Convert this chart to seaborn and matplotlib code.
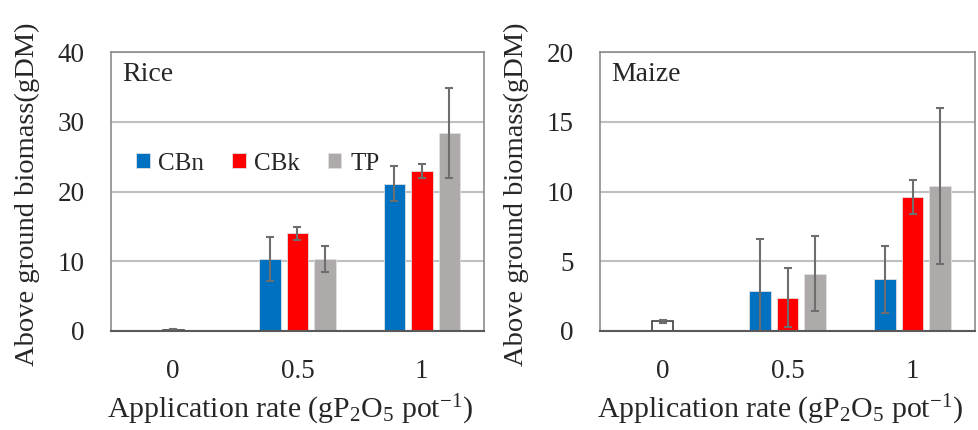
import matplotlib
matplotlib.use("Agg")
import matplotlib.pyplot as plt
import pandas as pd
import seaborn as sns

rates = ["0", "0.5", "1"]
treatments = ["CBn", "CBk", "TP"]
colors = ["#0070C0", "#FF0000", "#AEAAAA"]

# control (no P) at rate 0
rice_ctrl, rice_ctrl_err = 0.2, 0.05
maize_ctrl, maize_ctrl_err = 0.7, 0.1

# values at rate 0.5 and 1, per treatment
rice_cbn = [10.3, 21.1]
rice_cbk = [14.0, 23.0]
rice_tp = [10.3, 28.4]
rice_cbn_err = [3.2, 2.5]
rice_cbk_err = [0.9, 1.0]
rice_tp_err = [1.9, 6.4]

maize_cbn = [2.9, 3.7]
maize_cbk = [2.4, 9.6]
maize_tp = [4.1, 10.4]
maize_cbn_err = [3.7, 2.4]
maize_cbk_err = [2.1, 1.2]
maize_tp_err = [2.7, 5.6]


def make_df(vals, errs):
    rows = []
    for t, v, e in zip(treatments, vals, errs):
        for r, y, s in zip(rates[1:], v, e):
            rows.append({"rate": r, "treatment": t, "value": y, "err": s})
    return pd.DataFrame(rows)


sns.set_style("white")
plt.rcParams["font.family"] = ["Liberation Serif", "DejaVu Serif"]
plt.rcParams["mathtext.fontset"] = "custom"
plt.rcParams["mathtext.rm"] = "Liberation Serif"
plt.rcParams["mathtext.it"] = "Liberation Serif:italic"

fig = plt.figure(figsize=(9.79, 4.30), dpi=100)
ax1 = fig.add_axes([111 / 979, 1 - 331 / 430, 373 / 979, 279 / 430])
ax2 = fig.add_axes([600 / 979, 1 - 331 / 430, 375 / 979, 279 / 430])

panels = [
    (ax1, "Rice", make_df([rice_cbn, rice_cbk, rice_tp], [rice_cbn_err, rice_cbk_err, rice_tp_err]),
     rice_ctrl, rice_ctrl_err, 40, 10, True),
    (ax2, "Maize", make_df([maize_cbn, maize_cbk, maize_tp], [maize_cbn_err, maize_cbk_err, maize_tp_err]),
     maize_ctrl, maize_ctrl_err, 20, 5, False),
]

for ax, name, df, ctrl, ctrl_err, ymax, step, show_leg in panels:
    ax.set_axisbelow(True)
    ax.yaxis.grid(True, color="#BFBFBF", linewidth=1.5)
    sns.barplot(data=df, x="rate", y="value", hue="treatment", order=rates,
                hue_order=treatments, palette=colors, width=0.66, gap=0.22,
                saturation=1, errorbar=None, edgecolor="#E0E0E0", linewidth=0.6,
                legend=show_leg, ax=ax)
    # error bars from each bar's centre
    for cont, t in zip(ax.containers, treatments):
        sub = df[df["treatment"] == t]
        xs = [b.get_x() + b.get_width() / 2 for b in cont]
        ys = [b.get_height() for b in cont]
        ax.errorbar(xs, ys, yerr=sub["err"].values, fmt="none", ecolor="#6E6E6E",
                    elinewidth=1.5, capsize=3, capthick=1.5)
    # control bar at rate 0
    sns.barplot(x=["0"], y=[ctrl], order=rates, width=0.17, color="white",
                saturation=1, edgecolor="#404040", linewidth=1.2, errorbar=None, ax=ax)
    ax.errorbar([0], [ctrl], yerr=[ctrl_err], fmt="none", ecolor="#6E6E6E",
                elinewidth=1.5, capsize=3, capthick=1.5)

    ax.set_ylim(0, ymax)
    ax.set_yticks(range(0, ymax + 1, step))
    ax.set_xlim(-0.5, 2.5)
    ax.tick_params(axis="both", length=0, labelsize=19.5, pad=20)
    ax.tick_params(axis="y", pad=19)
    for s in ["top", "right", "left"]:
        ax.spines[s].set_color("#8C8C8C")
        ax.spines[s].set_linewidth(1.2)
    ax.spines["bottom"].set_color("#595959")
    ax.spines["bottom"].set_linewidth(1.5)
    ax.text(0.03, 0.92, name, transform=ax.transAxes, fontsize=20, va="center")
    ax.set_xlabel(r"Application rate (gP$_2$O$_5$ pot$^{-1}$)", fontsize=21.5)
    ax.set_ylabel("Above ground biomass(gDM)", fontsize=20.5)
    ax.xaxis.set_label_coords(0.48, -0.22)
    ax.yaxis.set_label_coords(-0.19, 0.49)
    if show_leg:
        ax.legend(loc="center left", bbox_to_anchor=(0.04, 0.6), ncol=3, frameon=False,
                  fontsize=18, handlelength=0.55, handleheight=0.55, handletextpad=0.35,
                  columnspacing=1.1, borderaxespad=0)

fig.savefig("out.png", dpi=100)
